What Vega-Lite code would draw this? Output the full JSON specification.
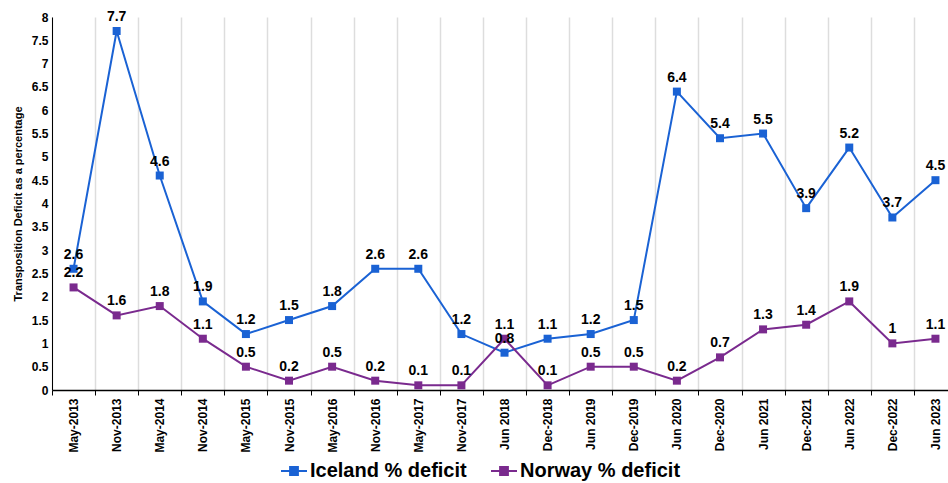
{
  "$schema": "https://vega.github.io/schema/vega-lite/v6.json",
  "autosize": {"type": "none"},
  "padding": {"left": 52, "top": 17, "right": 0, "bottom": 93},
  "width": 905,
  "height": 373,
  "background": "white",
  "config": {
    "view": {"stroke": null},
    "font": "Liberation Sans"
  },
  "data": {
    "values": [
      {"period": "May-2013", "series": "Iceland % deficit", "value": 2.6},
      {"period": "Nov-2013", "series": "Iceland % deficit", "value": 7.7},
      {"period": "May-2014", "series": "Iceland % deficit", "value": 4.6},
      {"period": "Nov-2014", "series": "Iceland % deficit", "value": 1.9},
      {"period": "May-2015", "series": "Iceland % deficit", "value": 1.2},
      {"period": "Nov-2015", "series": "Iceland % deficit", "value": 1.5},
      {"period": "May-2016", "series": "Iceland % deficit", "value": 1.8},
      {"period": "Nov-2016", "series": "Iceland % deficit", "value": 2.6},
      {"period": "May-2017", "series": "Iceland % deficit", "value": 2.6},
      {"period": "Nov-2017", "series": "Iceland % deficit", "value": 1.2},
      {"period": "Jun 2018", "series": "Iceland % deficit", "value": 0.8},
      {"period": "Dec-2018", "series": "Iceland % deficit", "value": 1.1},
      {"period": "Jun 2019", "series": "Iceland % deficit", "value": 1.2},
      {"period": "Dec-2019", "series": "Iceland % deficit", "value": 1.5},
      {"period": "Jun 2020", "series": "Iceland % deficit", "value": 6.4},
      {"period": "Dec-2020", "series": "Iceland % deficit", "value": 5.4},
      {"period": "Jun 2021", "series": "Iceland % deficit", "value": 5.5},
      {"period": "Dec-2021", "series": "Iceland % deficit", "value": 3.9},
      {"period": "Jun 2022", "series": "Iceland % deficit", "value": 5.2},
      {"period": "Dec-2022", "series": "Iceland % deficit", "value": 3.7},
      {"period": "Jun 2023", "series": "Iceland % deficit", "value": 4.5},
      {"period": "May-2013", "series": "Norway % deficit", "value": 2.2},
      {"period": "Nov-2013", "series": "Norway % deficit", "value": 1.6},
      {"period": "May-2014", "series": "Norway % deficit", "value": 1.8},
      {"period": "Nov-2014", "series": "Norway % deficit", "value": 1.1},
      {"period": "May-2015", "series": "Norway % deficit", "value": 0.5},
      {"period": "Nov-2015", "series": "Norway % deficit", "value": 0.2},
      {"period": "May-2016", "series": "Norway % deficit", "value": 0.5},
      {"period": "Nov-2016", "series": "Norway % deficit", "value": 0.2},
      {"period": "May-2017", "series": "Norway % deficit", "value": 0.1},
      {"period": "Nov-2017", "series": "Norway % deficit", "value": 0.1},
      {"period": "Jun 2018", "series": "Norway % deficit", "value": 1.1},
      {"period": "Dec-2018", "series": "Norway % deficit", "value": 0.1},
      {"period": "Jun 2019", "series": "Norway % deficit", "value": 0.5},
      {"period": "Dec-2019", "series": "Norway % deficit", "value": 0.5},
      {"period": "Jun 2020", "series": "Norway % deficit", "value": 0.2},
      {"period": "Dec-2020", "series": "Norway % deficit", "value": 0.7},
      {"period": "Jun 2021", "series": "Norway % deficit", "value": 1.3},
      {"period": "Dec-2021", "series": "Norway % deficit", "value": 1.4},
      {"period": "Jun 2022", "series": "Norway % deficit", "value": 1.9},
      {"period": "Dec-2022", "series": "Norway % deficit", "value": 1.0},
      {"period": "Jun 2023", "series": "Norway % deficit", "value": 1.1}
    ]
  },
  "encoding": {
    "x": {
      "field": "period",
      "type": "nominal",
      "sort": null,
      "bandPosition": 0.5,
      "scale": {"type": "band", "paddingInner": 0, "paddingOuter": 0},
      "axis": {
        "title": null,
        "labelAngle": 270,
        "labelFont": "Liberation Sans",
        "labelFontWeight": "bold",
        "labelFontSize": 12,
        "labelColor": "black",
        "labelPadding": 3,
        "tickBand": "extent",
        "tickColor": "black",
        "tickSize": 5,
        "domainColor": "black",
        "domainWidth": 1.5,
        "grid": true,
        "gridColor": "#dddddd",
        "gridWidth": 1.5
      }
    },
    "y": {
      "field": "value",
      "type": "quantitative",
      "scale": {"domain": [0, 8], "nice": false},
      "axis": {
        "title": "Transposition Deficit as a percentage",
        "titleFont": "Liberation Sans",
        "titleFontWeight": "bold",
        "titleFontSize": 11,
        "titleColor": "black",
        "titlePadding": 8,
        "values": [0, 0.5, 1, 1.5, 2, 2.5, 3, 3.5, 4, 4.5, 5, 5.5, 6, 6.5, 7, 7.5, 8],
        "format": "~g",
        "labelFont": "Liberation Sans",
        "labelFontWeight": "bold",
        "labelFontSize": 12,
        "labelColor": "black",
        "labelPadding": 4,
        "ticks": false,
        "grid": false,
        "domainColor": "black",
        "domainWidth": 1
      }
    },
    "color": {
      "field": "series",
      "type": "nominal",
      "scale": {"domain": ["Iceland % deficit", "Norway % deficit"], "range": ["#1a62d4", "#7a2a8e"]},
      "legend": {
        "title": null,
        "orient": "none",
        "direction": "horizontal",
        "legendX": 228,
        "legendY": 440,
        "labelFont": "Liberation Sans",
        "labelFontSize": 20,
        "labelFontWeight": "bold",
        "labelColor": "black",
        "labelLimit": 400,
        "columnPadding": 20,
        "symbolType": "M-1,0H1M-0.3,-0.3H0.3V0.3H-0.3Z",
        "symbolSize": 676,
        "symbolStrokeWidth": 2,
        "labelOffset": 2,
        "encode": {
          "symbols": {
            "update": {
              "fill": {"scale": "color", "field": "value"},
              "stroke": {"scale": "color", "field": "value"}
            }
          }
        }
      }
    }
  },
  "layer": [
    {"mark": {"type": "line", "strokeWidth": 2}},
    {"mark": {"type": "point", "shape": "square", "filled": true, "size": 64, "opacity": 1}},
    {
      "mark": {"type": "text", "dy": -14, "font": "Liberation Sans", "fontWeight": "bold", "fontSize": 14, "color": "black"},
      "encoding": {
        "text": {"field": "value", "type": "quantitative", "format": "~g"},
        "color": {"value": "black"}
      }
    }
  ]
}
